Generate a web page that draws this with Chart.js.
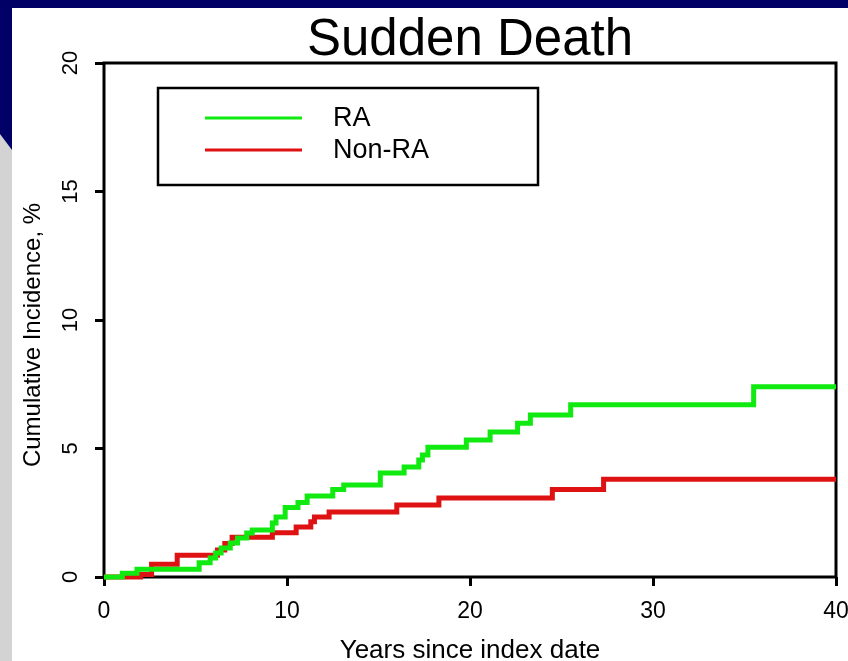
<!DOCTYPE html>
<html>
<head>
<meta charset="utf-8">
<script src="https://cdn.jsdelivr.net/npm/chart.js@4.4.1/dist/chart.umd.min.js"></script>
<style>
  html, body { margin: 0; padding: 0; background: #000066; overflow: hidden; }
  #wrap { width: 848px; height: 661px; }
</style>
</head>
<body>
<div id="wrap"><canvas id="chart" width="848" height="661"></canvas></div>
<script>
// Cumulative incidence of sudden death (years, %)
const raYears = [0, 1.0, 1.8, 5.2, 5.8, 6.1, 6.4, 6.9, 7.3, 7.8, 8.1, 9.2, 9.4, 9.9, 10.6, 11.1, 12.5, 13.1, 15.1, 16.4, 17.2, 17.4, 17.7, 19.8, 21.1, 22.6, 23.3, 25.5, 35.5, 40];
const raValues = [0, 0.15, 0.3, 0.55, 0.74, 0.93, 1.13, 1.32, 1.52, 1.71, 1.83, 2.1, 2.33, 2.7, 2.9, 3.15, 3.4, 3.58, 4.05, 4.28, 4.55, 4.75, 5.05, 5.33, 5.64, 5.98, 6.3, 6.7, 7.4, 7.4];

const nonRaYears = [0, 2.0, 2.6, 4.0, 6.2, 6.6, 7.0, 9.2, 10.5, 11.3, 11.5, 12.3, 16.0, 18.3, 24.5, 27.3, 40];
const nonRaValues = [0, 0.1, 0.5, 0.85, 1.05, 1.3, 1.55, 1.72, 1.95, 2.15, 2.33, 2.53, 2.8, 3.07, 3.4, 3.8, 3.8];

const seriesLabels = ["RA", "Non-RA"];
const xTicks = [0, 10, 20, 30, 40];
const yTicks = [0, 5, 10, 15, 20];

const chartTitle = "Sudden Death";
const xTitle = "Years since index date";
const yTitle = "Cumulative Incidence, %";

const COLORS = {
  navy: "#000066",
  strip: "#d3d3d3",
  green: "#11ea11",
  red: "#de1212",
  ink: "#000000"
};
const FONT = "'Liberation Sans', Arial, Helvetica, sans-serif";

function toPoints(xs, ys) {
  return xs.map((x, i) => ({ x, y: ys[i] }));
}

const backdropPlugin = {
  id: "backdropPlugin",
  beforeDraw(chart) {
    const { ctx, width, height } = chart;
    ctx.save();
    ctx.fillStyle = COLORS.navy;
    ctx.fillRect(0, 0, width, height);
    // grey strip down the left side, below the navy corner
    ctx.fillStyle = COLORS.strip;
    ctx.beginPath();
    ctx.moveTo(0, 134);
    ctx.lineTo(12, 150);
    ctx.lineTo(12, height);
    ctx.lineTo(0, height);
    ctx.closePath();
    ctx.fill();
    ctx.fillStyle = "#ffffff";
    ctx.fillRect(12, 8, width - 12, height - 8);
    ctx.restore();
  }
};

const framePlugin = {
  id: "framePlugin",
  beforeDatasetsDraw(chart) {
    const { ctx, chartArea: a } = chart;
    ctx.save();
    ctx.strokeStyle = COLORS.ink;
    ctx.lineWidth = 3;
    ctx.strokeRect(a.left, a.top, a.right - a.left, a.bottom - a.top);
    ctx.restore();
  },
  afterDraw(chart) {
    const { ctx, chartArea: a } = chart;
    const yScale = chart.scales.y;
    ctx.save();
    ctx.fillStyle = COLORS.ink;

    // title
    ctx.font = "51px " + FONT;
    ctx.textAlign = "center";
    ctx.textBaseline = "alphabetic";
    ctx.fillText(chartTitle, (a.left + a.right) / 2, 55);

    // x axis title
    ctx.font = "26px " + FONT;
    ctx.fillText(xTitle, (a.left + a.right) / 2, 658);

    // y tick labels, rotated
    ctx.font = "22px " + FONT;
    yScale.ticks.forEach((t) => {
      const py = yScale.getPixelForValue(t.value);
      ctx.save();
      ctx.translate(71, py);
      ctx.rotate(-Math.PI / 2);
      ctx.textAlign = "center";
      ctx.textBaseline = "middle";
      ctx.fillText(String(t.value), 0, 0);
      ctx.restore();
    });

    // y axis title
    ctx.save();
    ctx.font = "24px " + FONT;
    ctx.translate(33, (a.top + a.bottom) / 2 + 15);
    ctx.rotate(-Math.PI / 2);
    ctx.textAlign = "center";
    ctx.textBaseline = "middle";
    ctx.fillText(yTitle, 0, 0);
    ctx.restore();

    // legend box
    ctx.lineWidth = 2.5;
    ctx.strokeStyle = COLORS.ink;
    ctx.strokeRect(158, 88, 380, 97);
    chart.data.datasets.forEach((ds, i) => {
      const ly = 118 + i * 32;
      ctx.strokeStyle = ds.borderColor;
      ctx.lineWidth = 3;
      ctx.beginPath();
      ctx.moveTo(205, ly);
      ctx.lineTo(302, ly);
      ctx.stroke();
      ctx.fillStyle = COLORS.ink;
      ctx.font = "27px " + FONT;
      ctx.textAlign = "left";
      ctx.textBaseline = "middle";
      ctx.fillText(ds.label, 333, ly + 1);
    });
    ctx.restore();
  }
};

new Chart(document.getElementById("chart"), {
  type: "line",
  data: {
    datasets: [
      {
        label: seriesLabels[0],
        data: toPoints(raYears, raValues),
        borderColor: COLORS.green,
        borderWidth: 5,
        stepped: "before",
        pointRadius: 0,
        fill: false,
        clip: 5
      },
      {
        label: seriesLabels[1],
        data: toPoints(nonRaYears, nonRaValues),
        borderColor: COLORS.red,
        borderWidth: 5,
        stepped: "before",
        pointRadius: 0,
        fill: false,
        clip: 5
      }
    ]
  },
  options: {
    responsive: false,
    animation: false,
    layout: { padding: { left: 0, right: 0, top: 63, bottom: 0 } },
    plugins: {
      legend: { display: false },
      title: { display: false },
      tooltip: { enabled: false }
    },
    scales: {
      x: {
        type: "linear",
        min: 0,
        max: 40,
        afterFit: (s) => {
          s.height = 84;
          s.paddingLeft = 0;
          s.paddingRight = 12;
        },
        afterBuildTicks: (s) => { s.ticks = xTicks.map((v) => ({ value: v })); },
        border: { display: false },
        grid: {
          drawOnChartArea: false,
          drawTicks: true,
          tickLength: 9,
          tickWidth: 3,
          tickColor: COLORS.ink
        },
        ticks: {
          color: COLORS.ink,
          padding: 12,
          maxRotation: 0,
          font: { family: FONT, size: 23 }
        }
      },
      y: {
        type: "linear",
        min: 0,
        max: 20,
        afterFit: (s) => { s.width = 104; },
        afterBuildTicks: (s) => { s.ticks = yTicks.map((v) => ({ value: v })); },
        border: { display: false },
        grid: {
          drawOnChartArea: false,
          drawTicks: true,
          tickLength: 9,
          tickWidth: 3,
          tickColor: COLORS.ink
        },
        ticks: { display: false }
      }
    }
  },
  plugins: [backdropPlugin, framePlugin]
});
</script>
</body>
</html>
